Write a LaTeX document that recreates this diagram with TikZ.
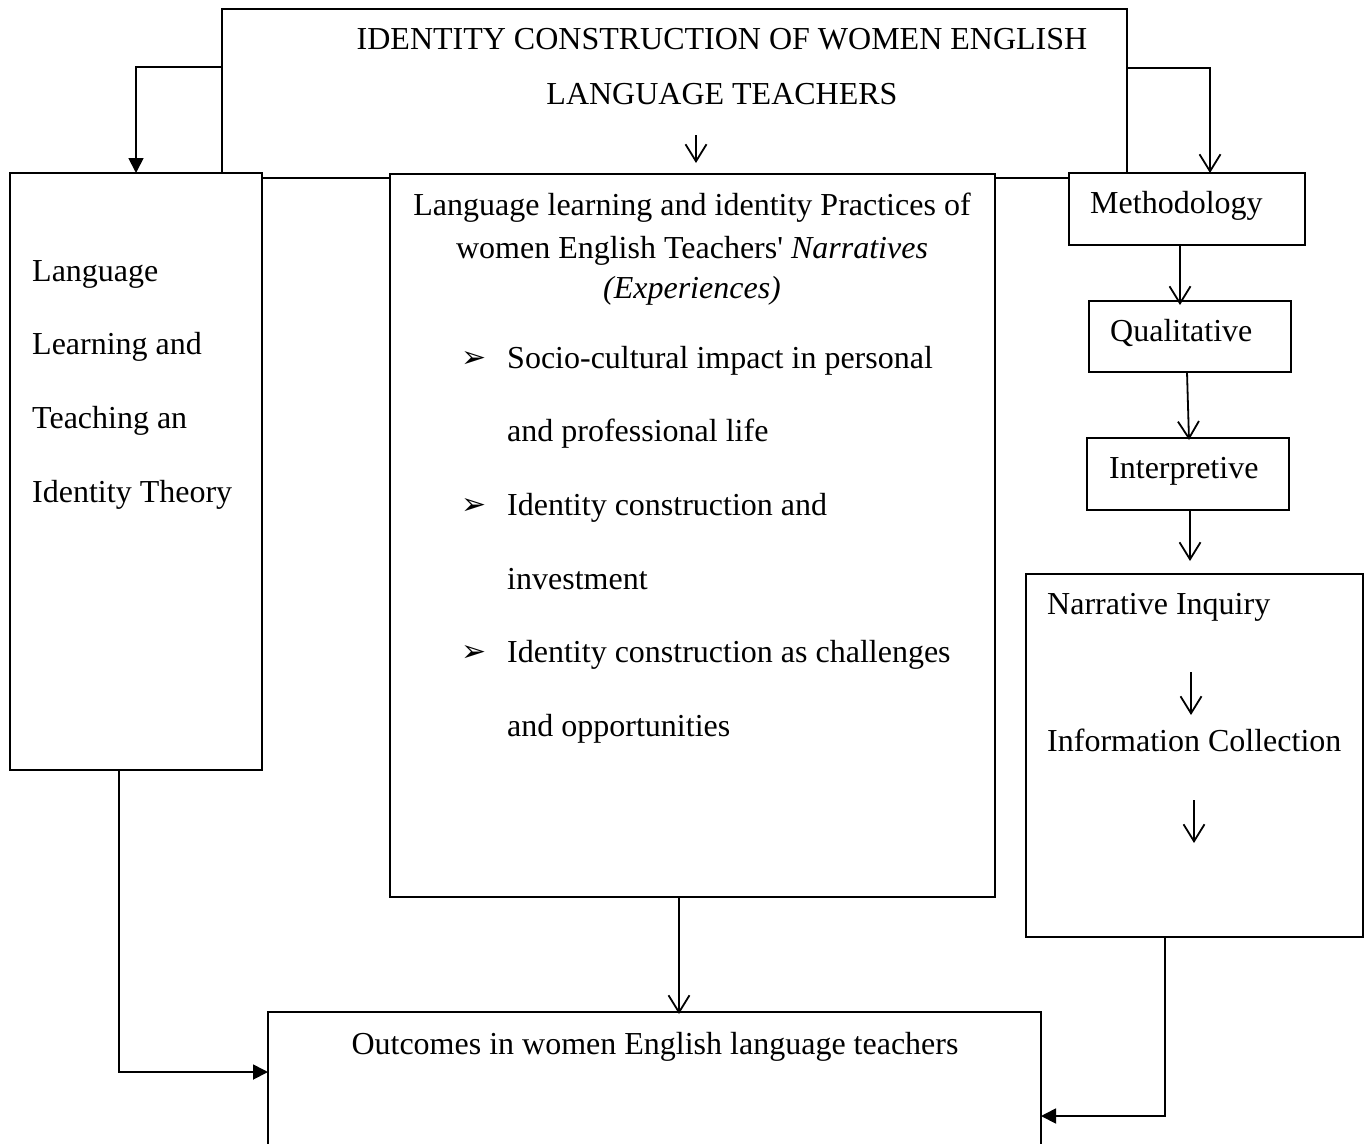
\documentclass[tikz,border=0pt]{standalone}
\usepackage{fontspec}
\setmainfont{Liberation Serif}[Ligatures=TeXOff]
\newfontfamily\symfont{DejaVu Sans}
\usetikzlibrary{arrows.meta}
\begin{document}
\begin{tikzpicture}[x=1pt,y=-1pt,
  box/.style={draw, line width=1.8pt, fill=white, inner sep=0pt, outer sep=0pt},
  txt/.style={anchor=base west, inner sep=0pt, font=\fontsize{32}{38}\selectfont},
  ctxt/.style={anchor=base, inner sep=0pt, font=\fontsize{32}{38}\selectfont},
  bul/.style={anchor=base west, inner sep=0pt, font=\symfont\fontsize{30}{34}\selectfont},
  conn/.style={line width=1.8pt},
  solidtip/.style={-{Triangle[length=15pt,width=15pt]}},
  opentip/.style={-{Straight Barb[length=17pt,width=21pt]}}
]
\useasboundingbox (0,0) rectangle (1367,1143);
\fill[white] (0,0) rectangle (1367,1143);

% boxes
\node[box, minimum width=905pt, minimum height=169pt] (top) at (674.5,93.5) {};
\node[box, minimum width=252pt, minimum height=597pt] (left) at (136,471.5) {};
\node[box, minimum width=605pt, minimum height=723pt] (mid) at (692.5,535.5) {};
\node[box, minimum width=236pt, minimum height=72pt] (meth) at (1187,209) {};
\node[box, minimum width=202pt, minimum height=71pt] (qual) at (1190,336.5) {};
\node[box, minimum width=202pt, minimum height=72pt] (interp) at (1188,474) {};
\node[box, minimum width=337pt, minimum height=363pt] (narr) at (1194.5,755.5) {};
\node[box, minimum width=773pt, minimum height=148pt] (out) at (654.5,1086) {};

% texts
\node[ctxt] (t1) at (722,49) {IDENTITY CONSTRUCTION OF WOMEN ENGLISH};
\node[ctxt] (t2) at (722,104) {LANGUAGE TEACHERS};

\node[txt] (l1) at (32,281) {Language};
\node[txt] (l2) at (32,354) {Learning and};
\node[txt] (l3) at (32,428) {Teaching an};
\node[txt] (l4) at (32,502) {Identity Theory};

\node[ctxt] (m1) at (692,215) {Language learning and identity Practices of};
\node[ctxt] (m2) at (692,258) {women English Teachers' \textit{Narratives}};
\node[ctxt] (m3) at (692,298) {\textit{(Experiences)}};

\node[bul] (b1) at (461,367) {➢};
\node[bul] (b2) at (461,514) {➢};
\node[bul] (b3) at (461,661) {➢};
\node[txt] (s1) at (507,368) {Socio-cultural impact in personal};
\node[txt] (s2) at (507,441) {and professional life};
\node[txt] (s3) at (507,515) {Identity construction and};
\node[txt] (s4) at (507,589) {investment};
\node[txt] (s5) at (507,662) {Identity construction as challenges};
\node[txt] (s6) at (507,736) {and opportunities};

\node[txt] (r1) at (1090,213) {Methodology};
\node[txt] (r2) at (1110,341) {Qualitative};
\node[txt] (r3) at (1109,478) {Interpretive};
\node[txt] (r4) at (1047,614) {Narrative Inquiry};
\node[txt] (r5) at (1047,751) {Information Collection};

\node[ctxt] (o1) at (655,1054) {Outcomes in women English language teachers};

% connectors
\coordinate (cl) at (136,67);
\draw[conn, solidtip] (top.west |- cl) -- (cl) -- (cl |- left.north);
\coordinate (cr) at (1210,68);
\draw[conn, opentip] (top.east |- cr) -- (cr) -- (cr |- meth.north);

\coordinate (ta1) at (696,135);
\coordinate (ta2) at (696,163);
\draw[conn, opentip] (ta1) -- (ta2);

\draw[conn, opentip] ([xshift=-7pt]meth.south) -- ([xshift=-10pt,yshift=-4pt]qual.north);
\draw[conn, opentip] ([xshift=-3pt]qual.south) -- ([xshift=1pt,yshift=-2pt]interp.north);
\coordinate (ie) at (1190,561);
\draw[conn, opentip] ([xshift=2pt]interp.south) -- (ie);

\coordinate (na1) at (1191,672);
\coordinate (na2) at (1191,715);
\draw[conn, opentip] (na1) -- (na2);
\coordinate (nb1) at (1194,800);
\coordinate (nb2) at (1194,843);
\draw[conn, opentip] (nb1) -- (nb2);

\draw[conn, opentip] ([xshift=-13.5pt]mid.south) -- ([xshift=24.5pt,yshift=-2pt]out.north);

\coordinate (c1) at (119,1072);
\draw[conn, solidtip] ([xshift=-17pt]left.south) -- (c1) -- (c1 -| out.west);
\coordinate (c2) at (1165,1116);
\draw[conn, solidtip] ([xshift=-29.5pt]narr.south) -- (c2) -- (c2 -| out.east);
\end{tikzpicture}
\end{document}
